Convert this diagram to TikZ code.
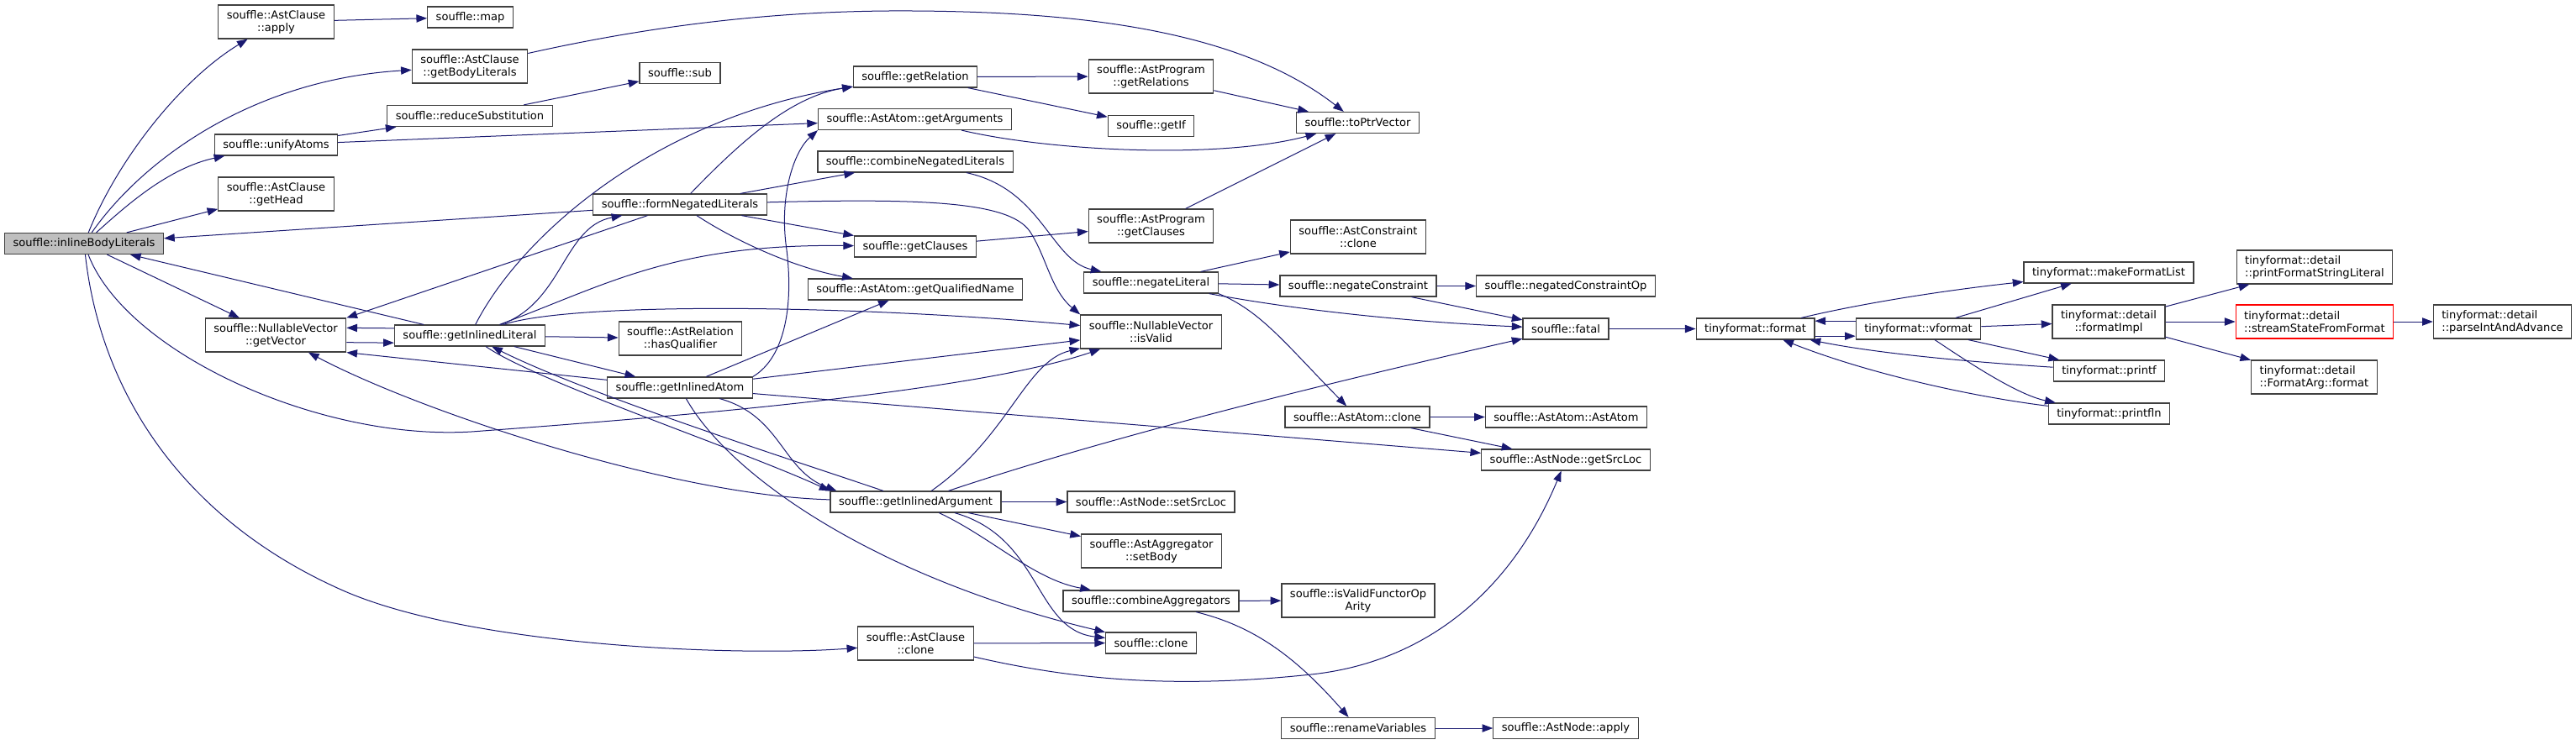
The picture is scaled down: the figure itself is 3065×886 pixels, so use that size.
\documentclass[tikz,border=0pt]{standalone}
\usepackage{fontspec}
\setmainfont{DejaVu Sans}
\usetikzlibrary{arrows.meta}
\definecolor{edgeblue}{RGB}{25,25,112}

\begin{document}
\begin{tikzpicture}[x=0.75pt,y=-0.75pt,
  fnbox/.style={draw=black!75,line width=0.9pt,fill=white,align=center,
    font=\fontsize{9.8}{11.3}\selectfont,inner xsep=7.5pt,inner ysep=0pt,minimum height=18.75pt},
  fnbox2/.style={fnbox,minimum height=30pt},
  callto/.style={edgeblue,line width=0.75pt,-{Triangle[length=9.5pt,width=7pt]}}]
  \useasboundingbox (0,0) rectangle (3065,886);

  \node[fnbox,fill=black!25] (ibl) at (100,290) {souffle::inlineBodyLiterals};

  \node[fnbox2] (apply) at (328.5,26) {souffle::AstClause\\::apply};
  \node[fnbox] (unify) at (328.5,172.5) {souffle::unifyAtoms};
  \node[fnbox2] (head) at (328.5,231) {souffle::AstClause\\::getHead};
  \node[fnbox2] (getVector) at (328,399) {souffle::NullableVector\\::getVector};

  \node[fnbox] (map) at (559.5,20.5) {souffle::map};
  \node[fnbox2] (bodyLit) at (559,79) {souffle::AstClause\\::getBodyLiterals};
  \node[fnbox] (reduce) at (559,138) {souffle::reduceSubstitution};
  \node[fnbox] (inLit) at (559,399.5) {souffle::getInlinedLiteral};

  \node[fnbox] (sub) at (809,87) {souffle::sub};
  \node[fnbox] (formNeg) at (809,243.5) {souffle::formNegatedLiterals};
  \node[fnbox2] (hasQual) at (809.5,403) {souffle::AstRelation\\::hasQualifier};
  \node[fnbox] (inAtom) at (809,461.5) {souffle::getInlinedAtom};

  \node[fnbox] (getRel) at (1089,91.5) {souffle::getRelation};
  \node[fnbox] (getArgs) at (1088.5,142) {souffle::AstAtom::getArguments};
  \node[fnbox] (combNeg) at (1089,192.5) {souffle::combineNegatedLiterals};
  \node[fnbox] (getClauses) at (1089,293.5) {souffle::getClauses};
  \node[fnbox] (qualName) at (1089,344.5) {souffle::AstAtom::getQualifiedName};
  \node[fnbox] (inArg) at (1089.5,597.5) {souffle::getInlinedArgument};
  \node[fnbox2] (clauseClone) at (1089.5,766) {souffle::AstClause\\::clone};

  \node[fnbox2] (progRel) at (1369.5,91) {souffle::AstProgram\\::getRelations};
  \node[fnbox] (getIf) at (1369.5,150) {souffle::getIf};
  \node[fnbox2] (progClauses) at (1369.5,269) {souffle::AstProgram\\::getClauses};
  \node[fnbox] (negLit) at (1369.5,336.5) {souffle::negateLiteral};
  \node[fnbox2] (isValid) at (1369.5,395) {souffle::NullableVector\\::isValid};
  \node[fnbox] (setSrcLoc) at (1369.5,597.5) {souffle::AstNode::setSrcLoc};
  \node[fnbox2] (setBody) at (1370,656) {souffle::AstAggregator\\::setBody};
  \node[fnbox] (combAgg) at (1369.5,715.5) {souffle::combineAggregators};
  \node[fnbox] (clone) at (1369.5,765.5) {souffle::clone};

  \node[fnbox] (toPtr) at (1615.5,146) {souffle::toPtrVector};
  \node[fnbox2] (constrClone) at (1616,282) {souffle::AstConstraint\\::clone};
  \node[fnbox] (negConstr) at (1616,340.5) {souffle::negateConstraint};
  \node[fnbox] (atomClone) at (1615,496.5) {souffle::AstAtom::clone};
  \node[fnbox2] (funcArity) at (1616,715) {souffle::isValidFunctorOp\\Arity};
  \node[fnbox] (renameVar) at (1616,867) {souffle::renameVariables};

  \node[fnbox] (negOp) at (1863,340.5) {souffle::negatedConstraintOp};
  \node[fnbox] (fatal) at (1863,391.5) {souffle::fatal};
  \node[fnbox] (atomAtom) at (1863.5,496.5) {souffle::AstAtom::AstAtom};
  \node[fnbox] (getSrcLoc) at (1863,547.5) {souffle::AstNode::getSrcLoc};
  \node[fnbox] (nodeApply) at (1863,867) {souffle::AstNode::apply};

  \node[fnbox] (format) at (2088.5,391.5) {tinyformat::format};
  \node[fnbox] (vformat) at (2282.5,391.5) {tinyformat::vformat};

  \node[fnbox] (makeFL) at (2509,324.5) {tinyformat::makeFormatList};
  \node[fnbox2] (formatImpl) at (2509,383) {tinyformat::detail\\::formatImpl};
  \node[fnbox] (printf) at (2509.5,441.5) {tinyformat::printf};
  \node[fnbox] (printfln) at (2509.5,492.5) {tinyformat::printfln};

  \node[fnbox2,align=left] (pfsl) at (2754,318) {tinyformat::detail\\::printFormatStringLiteral};
  \node[fnbox2,align=left,draw=red] (ssff) at (2754,383) {tinyformat::detail\\::streamStateFromFormat};
  \node[fnbox2,align=left] (faFormat) at (2753.5,449) {tinyformat::detail\\::FormatArg::format};
  \node[fnbox2,align=left] (piaa) at (2977.5,383) {tinyformat::detail\\::parseIntAndAdvance};

  \foreach \a/\b in {ibl/head,ibl/getVector,apply/map,unify/reduce,unify/getArgs,reduce/sub,
      formNeg/ibl,inLit/ibl,inLit/hasQual,inLit/inAtom,formNeg/combNeg,formNeg/getClauses,
      inAtom/qualName,inAtom/isValid,inAtom/getSrcLoc,inArg/setSrcLoc,inArg/setBody,
      getRel/progRel,getRel/getIf,progRel/toPtr,progClauses/toPtr,getClauses/progClauses,
      negLit/constrClone,negLit/negConstr,negConstr/negOp,negConstr/fatal,
      atomClone/atomAtom,atomClone/getSrcLoc,clauseClone/clone,combAgg/funcArity,
      renameVar/nodeApply,fatal/format,vformat/makeFL,vformat/formatImpl,vformat/printf,
      formatImpl/pfsl,formatImpl/ssff,formatImpl/faFormat,ssff/piaa}
    \draw[callto] (\a) -- (\b);

  \draw[callto] (ibl) .. controls (140,190) and (215,95) .. (apply);
  \draw[callto] (ibl) .. controls (170,190) and (300,95) .. (bodyLit);
  \draw[callto] (ibl) .. controls (150,245) and (200,200) .. (unify);
  \draw[callto] (ibl) .. controls (150,420) and (380,525) .. (561,514)
    .. controls (750,500) and (1150,470) .. (isValid);
  \draw[callto] (ibl) .. controls (120,470) and (220,620) .. (408,703)
    .. controls (560,770) and (880,782) .. (clauseClone);
  \draw[callto] (bodyLit) .. controls (800,25) and (950,12) .. (1086,13)
    .. controls (1300,14) and (1480,40) .. (toPtr);

  \draw[callto] ([yshift=6.5pt]inLit.west) -- ([yshift=6.5pt]getVector.east);
  \draw[callto] ([yshift=-6.5pt]getVector.east) -- ([yshift=-6.5pt]inLit.west);
  \draw[callto] (formNeg) -- (getVector.north east);
  \draw[callto] (inAtom) -- (getVector.south east);
  \draw[callto] (inArg) .. controls (800,590) and (500,490) .. (getVector);

  \draw[callto] (inLit) .. controls (620,280) and (780,140) .. (getRel);
  \draw[callto] (inLit) .. controls (670,360) and (670,270) .. (formNeg);
  \draw[callto] (inLit) .. controls (720,340) and (800,290) .. (getClauses);
  \draw[callto] (inLit) .. controls (680,360) and (1000,362) .. (isValid);
  \draw[callto] (inLit) .. controls (640,455) and (880,535) .. (inArg.north west);

  \draw[callto] (formNeg) .. controls (880,170) and (940,115) .. (getRel);
  \draw[callto] (formNeg) .. controls (880,290) and (950,320) .. (qualName);
  \draw[callto] (formNeg) .. controls (1100,236) and (1200,240) .. (1225,275)
    .. controls (1245,305) and (1250,345) .. (isValid.north west);

  \draw[callto] (inAtom.north east) .. controls (935,425) and (945,360) .. (935,290)
    .. controls (928,230) and (945,180) .. (getArgs.south west);
  \draw[callto] (inAtom) .. controls (870,570) and (1050,690) .. (clone);
  \draw[callto] (inAtom) .. controls (930,495) and (930,560) .. ([xshift=6pt]inArg.north west);

  \draw[callto] (inArg) .. controls (950,550) and (700,470) .. (inLit);
  \draw[callto] (inArg) .. controls (1180,640) and (1230,690) .. (combAgg);
  \draw[callto] (inArg) .. controls (1240,640) and (1230,750) .. (clone);
  \draw[callto] (inArg) .. controls (1350,510) and (1650,440) .. (fatal);
  \draw[callto] (inArg) .. controls (1200,520) and (1220,430) .. (isValid);

  \draw[callto] (getArgs) .. controls (1250,180) and (1450,190) .. (toPtr);
  \draw[callto] (combNeg) .. controls (1240,225) and (1250,310) .. (negLit);
  \draw[callto] (negLit) .. controls (1520,365) and (1650,382) .. (fatal);
  \draw[callto] (negLit.south east) .. controls (1500,370) and (1530,410) .. (atomClone);
  \draw[callto] (clauseClone) .. controls (1280,810) and (1400,820) .. (1560,803)
    .. controls (1700,788) and (1800,700) .. (getSrcLoc);
  \draw[callto] (combAgg) .. controls (1490,745) and (1540,780) .. (renameVar);

  \draw[callto] ([yshift=7pt]vformat.west) -- ([yshift=7pt]format.east);
  \draw[callto] ([yshift=-6.5pt]format.east) -- ([yshift=-6.5pt]vformat.west);
  \draw[callto] (format) .. controls (2220,360) and (2320,345) .. (makeFL);
  \draw[callto] (vformat) .. controls (2340,430) and (2400,470) .. (printfln);
  \draw[callto] (printf) .. controls (2330,430) and (2230,420) .. (format);
  \draw[callto] (printfln) .. controls (2330,470) and (2210,440) .. (format);
\end{tikzpicture}
\end{document}
